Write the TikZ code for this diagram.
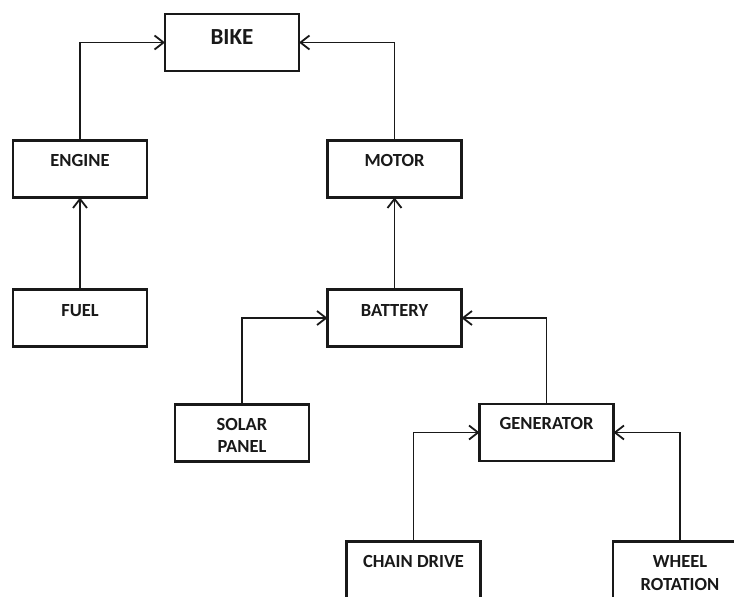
\documentclass[tikz,border=0pt]{standalone}
\usepackage{fontspec}
\setmainfont{Carlito}
\usetikzlibrary{arrows.meta}
\tikzset{
  box/.style={draw=black!90, line width=2.4pt, fill=white, minimum width=134pt, minimum height=57pt, inner sep=0pt, outer sep=0pt},
  lbl/.style={inner sep=0pt, anchor=base, align=center, text=black!90, font=\bfseries\fontsize{18.5}{22.5}\selectfont},
  biglbl/.style={lbl, font=\bfseries\fontsize{23}{27}\selectfont},
  arr/.style={draw=black!90, line width=1.8pt, -{Straight Barb[length=9pt,width=14pt,line width=1.8pt]}}
}
\begin{document}
\begin{tikzpicture}[x=1pt,y=-1pt]
\useasboundingbox (0,0) rectangle (734,597);
\clip (0,0) rectangle (734,597);
\node[box] (bike) at (232,42.5) {};
\node[box] (engine) at (80,169) {};
\node[box] (motor) at (394.5,169) {};
\node[box] (fuel) at (80,318) {};
\node[box] (battery) at (394.5,318) {};
\node[box] (solar) at (242,433) {};
\node[box] (generator) at (546.5,432.5) {};
\node[box] (chain) at (413.5,570) {};
\node[box] (wheel) at (680,570) {};

\node[biglbl] (bike-t) at ([yshift=-30pt]bike.north) {BIKE};
\node[lbl] (engine-t) at ([yshift=-25.5pt]engine.north) {ENGINE};
\node[lbl] (motor-t) at ([yshift=-25.5pt]motor.north) {MOTOR};
\node[lbl] (fuel-t) at ([yshift=-26.5pt]fuel.north) {FUEL};
\node[lbl] (battery-t) at ([yshift=-26.5pt]battery.north) {BATTERY};
\node[lbl] (solar-t) at ([yshift=-48pt]solar.north) {SOLAR\\PANEL};
\node[lbl] (generator-t) at ([yshift=-25.5pt]generator.north) {GENERATOR};
\node[lbl] (chain-t) at ([yshift=-26pt]chain.north) {CHAIN DRIVE};
\node[lbl] (wheel-t) at ([yshift=-48.5pt]wheel.north) {WHEEL\\ROTATION};

\draw[arr] (engine.north) |- (bike.west);
\draw[arr] (motor.north) |- (bike.east);
\draw[arr] (fuel.north) -- (engine.south);
\draw[arr] (battery.north) -- (motor.south);
\draw[arr] (solar.north) |- (battery.west);
\draw[arr] (generator.north) |- (battery.east);
\draw[arr] (chain.north) |- (generator.west);
\draw[arr] (wheel.north) |- (generator.east);
\end{tikzpicture}
\end{document}
